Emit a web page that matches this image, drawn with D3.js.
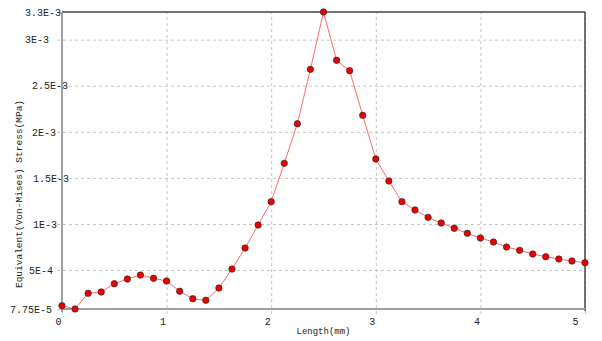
<!DOCTYPE html>
<html>
<head>
<meta charset="utf-8">
<script src="https://cdn.jsdelivr.net/npm/d3@7"></script>
<style>
  body { margin: 0; background: #fff; }
  text { font-family: "Liberation Mono", monospace; fill: #222; }
</style>
</head>
<body>
<div id="chart"></div>
<script>
// Length along path (mm)
const lengthMm = [
  0, 0.125, 0.25, 0.375, 0.5, 0.625, 0.75, 0.875, 1, 1.125, 1.25, 1.375,
  1.5, 1.625, 1.75, 1.875, 2, 2.125, 2.25, 2.375, 2.5, 2.625, 2.75, 2.875,
  3, 3.125, 3.25, 3.375, 3.5, 3.625, 3.75, 3.875, 4, 4.125, 4.25, 4.375,
  4.5, 4.625, 4.75, 4.875, 5
];
// Equivalent (Von-Mises) stress (MPa)
const stressMpa = [
  1.13e-4, 7.75e-5, 2.48e-4, 2.62e-4, 3.52e-4, 4.03e-4, 4.46e-4, 4.11e-4,
  3.81e-4, 2.7e-4, 1.89e-4, 1.72e-4, 3.05e-4, 5.11e-4, 7.39e-4, 9.89e-4,
  1.242e-3, 1.658e-3, 2.088e-3, 2.678e-3, 3.3e-3, 2.776e-3, 2.663e-3,
  2.179e-3, 1.705e-3, 1.466e-3, 1.242e-3, 1.152e-3, 1.072e-3, 1.011e-3,
  9.53e-4, 8.99e-4, 8.48e-4, 8.04e-4, 7.5e-4, 7.14e-4, 6.74e-4, 6.45e-4,
  6.2e-4, 5.98e-4, 5.8e-4
];
const xTicks = [0, 1, 2, 3, 4, 5];
const xTickLabels = ["0", "1", "2", "3", "4", "5"];
const yTicks = [7.75e-5, 5e-4, 1e-3, 1.5e-3, 2e-3, 2.5e-3, 3e-3, 3.3e-3];
const yTickLabels = ["7.75E-5", "5E-4", "1E-3", "1.5E-3", "2E-3", "2.5E-3", "3E-3", "3.3E-3"];

(function () {
  const W = 602, H = 341;
  const margin = { top: 12, right: 17, bottom: 32, left: 62 };
  const width = W - margin.left - margin.right;
  const height = H - margin.top - margin.bottom;
  // left edge of each y label, relative to the axis (matches the odd layout)
  const yLabelLeft = [-52, -33, -29, -29, -30, -30, -37, -37];

  const svg = d3.select("#chart").append("svg")
    .attr("width", W).attr("height", H)
    .append("g")
    .attr("transform", `translate(${margin.left},${margin.top})`);

  const x = d3.scaleLinear().domain([0, 5]).range([0, width]);
  const y = d3.scaleLinear().domain([7.75e-5, 3.3e-3]).range([height, 0]);

  // y grid + labels
  const yAxis = svg.append("g")
    .call(d3.axisLeft(y).tickValues(yTicks).tickSize(-width).tickFormat((d, i) => yTickLabels[i]));
  yAxis.select(".domain").remove();
  yAxis.selectAll(".tick line")
    .attr("x1", -5)
    .attr("stroke", "#c4c4c4")
    .attr("stroke-dasharray", (d, i) => (i === 0 || i === yTicks.length - 1) ? null : "3,3")
    .attr("x2", (d, i) => (i === 0 || i === yTicks.length - 1) ? 0 : width);
  yAxis.selectAll(".tick line").filter((d, i) => i === yTicks.length - 1).attr("stroke", "#999");
  yAxis.selectAll(".tick text")
    .attr("text-anchor", "start")
    .attr("x", (d, i) => yLabelLeft[i])
    .attr("font-size", 10)
    .style("font-family", "'Liberation Mono', monospace");

  // x grid + labels
  const xAxis = svg.append("g")
    .attr("transform", `translate(0,${height})`)
    .call(d3.axisBottom(x).tickValues(xTicks).tickSize(-height).tickFormat((d, i) => xTickLabels[i]));
  xAxis.select(".domain").remove();
  xAxis.selectAll(".tick line")
    .attr("y1", 5)
    .attr("stroke", "#c4c4c4")
    .attr("stroke-dasharray", "3,3");
  xAxis.selectAll(".tick text")
    .attr("y", 9)
    .attr("dx", (d, i) => i === xTicks.length - 1 ? -10 : -4)
    .attr("font-size", 10)
    .style("font-family", "'Liberation Mono', monospace");

  // frame: dark top/right, grey left/bottom
  svg.append("line").attr("x1", 0).attr("x2", width).attr("y1", 0).attr("y2", 0)
    .attr("stroke", "#444").attr("stroke-width", 1.5);
  svg.append("line").attr("x1", width).attr("x2", width).attr("y1", 0).attr("y2", height + 2)
    .attr("stroke", "#444").attr("stroke-width", 1.5);
  svg.append("line").attr("x1", 0).attr("x2", 0).attr("y1", 0).attr("y2", height + 3)
    .attr("stroke", "#a0a0a0").attr("stroke-width", 2);
  svg.append("line").attr("x1", -1).attr("x2", width).attr("y1", height).attr("y2", height)
    .attr("stroke", "#a0a0a0").attr("stroke-width", 2);

  const data = lengthMm.map((d, i) => ({ len: d, val: stressMpa[i] }));

  svg.append("path")
    .datum(data)
    .attr("fill", "none")
    .attr("stroke", "#ff6a6a")
    .attr("stroke-width", 1)
    .attr("d", d3.line().x((d) => x(d.len)).y((d) => y(d.val)));

  svg.selectAll(".dot")
    .data(data)
    .enter()
    .append("circle")
    .attr("class", "dot")
    .attr("cx", (d) => x(d.len))
    .attr("cy", (d) => y(d.val))
    .attr("r", 3.2)
    .attr("fill", "#f00000")
    .attr("stroke", "#2a2a2a")
    .attr("stroke-width", 0.7);

  // axis titles
  svg.append("text")
    .attr("x", width / 2)
    .attr("y", height + 25)
    .attr("text-anchor", "middle")
    .attr("font-size", 9)
    .text("Length(mm)");

  svg.append("text")
    .attr("transform", `translate(${-40},${182}) rotate(-90)`)
    .attr("text-anchor", "middle")
    .attr("font-size", 9.5)
    .text("Equivalent(Von-Mises) Stress(MPa)");
})();
</script>
</body>
</html>
